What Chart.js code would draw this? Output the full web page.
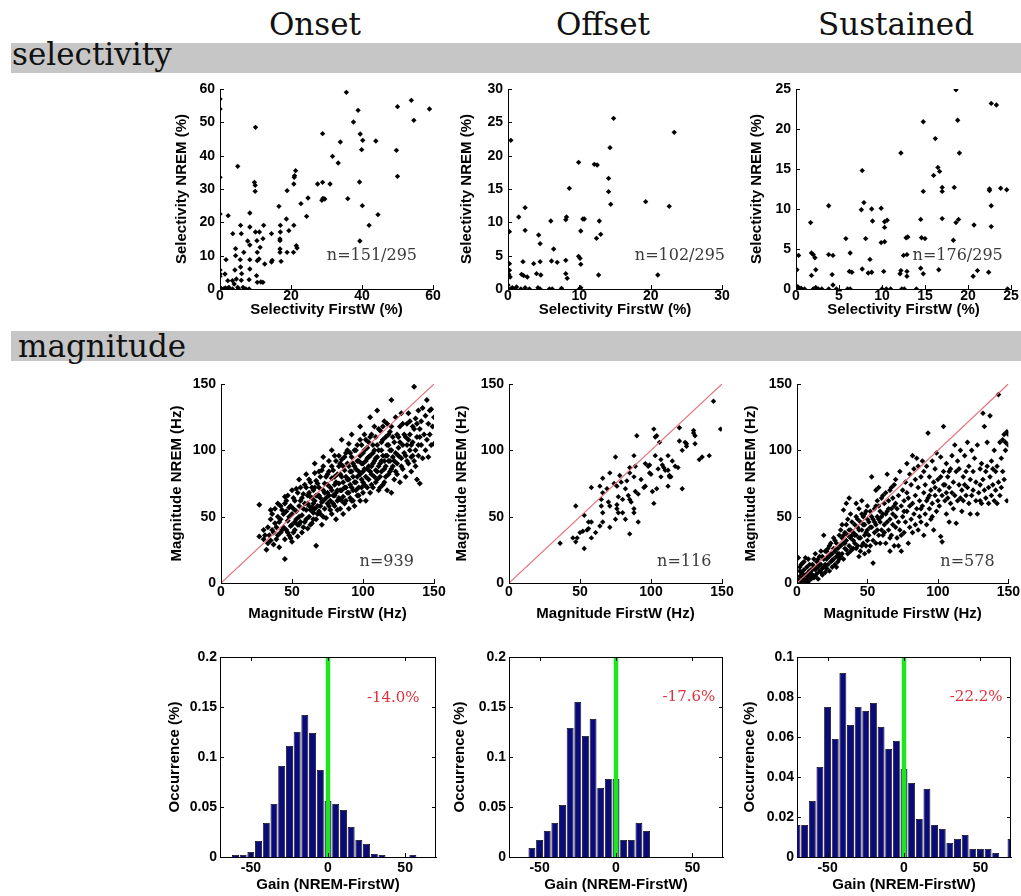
<!DOCTYPE html>
<html lang="en">
<head>
<meta charset="UTF-8" />
<title>FirstW vs NREM: selectivity and magnitude</title>
<script src="https://cdn.jsdelivr.net/npm/chart.js"></script>
<style>
  body { margin: 0; background: #fff; width: 1021px; height: 896px; position: relative; overflow: hidden; font-family: Arial, sans-serif; }
  .head { position: absolute; top: 9px; width: 220px; text-align: center; font-family: "DejaVu Serif", serif; font-size: 31px; line-height: 31px; color: #111; }
  .band { position: absolute; left: 11px; width: 1010px; height: 30px; background: #c6c6c6; }
  .band span { position: absolute; font-family: "DejaVu Serif", serif; font-size: 31px; line-height: 31px; color: #111; }
  canvas { position: absolute; }
</style>
</head>
<body>

<div class="head" style="left:205px">Onset</div>
<div class="head" style="left:493px">Offset</div>
<div class="head" style="left:786px">Sustained</div>
<div class="band" style="top:43px"><span style="left:1px;top:-4px">selectivity</span></div>
<div class="band" style="top:331px"><span style="left:7px;top:0px">magnitude</span></div>

<script>
  // ---- selectivity scatter (FirstW %, NREM %) ----
  const onsetSel = [[0,57],[0,54],[0,33.5],[0,22.5],[0,5.7],[0,4.5],[0,3.8],[0,0.5],[0,0],[0.4,0],[1,0],[1.5,0.3],[2,0],[2.5,0.5],
    [1.7,8.8],[1.4,4.5],[2.3,22],[2.2,2.5],[3.5,0],[3.6,16.6],[3.5,2.5],[4,1.5],[5,36.8],[4.4,12.1],[4.4,10],[4.2,5.7],[4.6,3],[5,0.5],[5.2,0],
    [5.8,19.1],[6,16.6],[5.7,8.8],[5.8,6.6],[6.1,4.6],[6,2.6],[6.5,0.5],[6.7,11],[7.8,14.4],[8.4,22.8],[8.4,18.6],[8.4,13.2],[8.4,8.8],[8.4,6],[8.2,2.8],[8.2,0],[7.3,0],
    [10,48.5],[9.7,32],[9.9,31.1],[9.9,29.3],[10,17.1],[10.4,14.5],[10.5,11],[10.5,8.5],[10.3,4],[10.5,2],[11.1,17.1],[11.3,12.5],[11,9],[11.5,2.1],[12.3,19.1],[12.1,15.1],[12.6,7.5],[12.1,2],
    [14.5,16.6],[14.7,8.6],[14.5,8.1],[16.6,24.8],[17,19.1],[17,17.1],[16.9,15],[16.9,14.5],[16.9,12],[16.9,11],[17.2,8.3],[18.7,21],[18.9,29.5],[19.4,17.5],[18.9,11],
    [20.8,31.5],[20.9,33.5],[21,34],[20.8,19.1],[20.7,11],[21.3,35.5],[21.5,13],[21.7,12.3],[22.8,25.6],[24.4,21.8],[24.8,27.3],[27.5,31.5],[28.9,46.6],[28.9,32],[29,27.2],[29.5,27],[28.7,26.6],
    [31,31.5],[31.7,39.8],[33.3,37.8],[33.9,44.1],[35.6,59],[36,27.1],[37.6,50.1],[38.9,53.6],[39.5,46.5],[39.3,32.1],[39.4,14.4],[39.9,41.8],[40.2,44.6],[40.1,25],[42,19.1],[43.9,44.4],[44.5,22.3],
    [50,54.7],[49.7,41.6],[50,33.8],[53.9,56.6],[54.6,50.6],[59,54]];

  const offsetSel = [[0.4,22.3],[0.2,8.6],[0.2,3.8],[0.2,2.8],[0.1,2.2],[0.3,1.8],[0,0.6],[0,0],[0.3,0],[0.6,0.2],[0.8,0],[1.2,0.3],
    [1.5,10.8],[2.4,12.2],[2.4,8.8],[1.9,2.2],[2.2,2],[2.1,4.1],[1.8,0],[2.4,0.2],[3,0],[2.7,1.8],
    [3.6,3.8],[4,2.3],[4.3,8.1],[4.5,6.8],[4.5,4.1],[4.6,2.1],[4.5,0],[4.2,0.2],[5.8,0],
    [6,10.2],[6.1,4.2],[6.4,6],[6.9,4],[6.2,0],[7.5,0.1],[8.2,10.8],[8.1,10.4],[8.6,15.1],[8.1,4.3],[8.1,2.3],[8.3,1.6],
    [9.9,19],[9.9,4.9],[10.1,4.6],[10.2,8.7],[10.5,10.5],[10.7,10.5],[10.2,3.7],[10.2,0.2],[10,0],
    [12.1,18.7],[12.5,18.6],[12.4,7.6],[12.8,10.2],[13,8.2],[12.7,2.1],[14.3,21.2],[14.1,16.6],[14.1,14.6],[14.4,12.7],[14.8,25.6],
    [19.3,13.1],[21,2.1],[22.6,12.4],[23.3,23.5]];

  const sustainedSel = [[0.3,4.2],[0.1,2.4],[0,0],[0.2,0.3],[0.4,0],[0.6,0.1],[1,0],
    [1.7,8.3],[1.8,4.5],[2,4.3],[2.2,3.9],[2.3,2.4],[1.8,1.7],[2,0],[2.3,0.2],[2.6,0],[3,0],
    [3.8,10.4],[3.8,4.3],[4.3,4.2],[4.2,1.8],[4.3,0.5],[4.7,0],[3.8,0],[5.8,6.3],[6.3,4.5],[6.2,2.2],[6.5,2.1],[6,0],[6.3,0],
    [7.6,9.9],[7.7,14.8],[7.9,10.8],[8.1,6.3],[7.7,2.5],[8.4,2],[8.8,2.1],[8.6,3.7],[8.8,10],[8.9,8.5],
    [9.9,10.1],[9.9,5.8],[10.3,5.9],[10.3,8.4],[10.3,7.7],[10.6,8.6],[10.2,2.2],[10,0],[10.5,0],[11,0],
    [12.2,17],[12.2,2.3],[12.1,1.9],[12.5,4.2],[12.8,6.4],[13,6.5],[12.9,4.3],[12.9,2.2],[12.9,1.6],[12.3,0],[12.6,0],[14,0],
    [14.5,8.7],[14.6,6.4],[15,6.3],[14.5,2.6],[14.8,1.9],[14.8,12.2],[14.8,20.9],[16,14.2],[16.2,18.8],[16.5,15.2],[16.7,14.7],[16.6,2.4],[17,12.7],[17,12.2],[17,8.8],
    [18.4,12.7],[18.3,6.1],[18.6,8.3],[18.9,8.7],[18.6,24.9],[18.8,21.1],[19,17],[20.7,8],[20.6,1.6],[21.1,2.3],
    [22.5,12.5],[22.5,12.3],[22.4,2.1],[22.7,23.2],[23.3,23],[22.7,10.4],[22.7,7.8],[23.8,12.6],[24.5,12.4],[24.6,0]];

  // ---- magnitude scatter (FirstW Hz, NREM Hz) ----
  const onsetMag = [[27,59],[27,35],[30,33],[32,25],[33,30],[34,36],[35,48],[36,40],[37,29],[38,45],[39,33],[40,50],[41,27],[42,38],[43,55],[44,42],[45,18],[45,33],[46,62],[47,47],[48,36],[48,57],[49,43],[50,31],[50,52],[51,64],[52,40],[53,48],[53,71],[54,35],[55,58],[55,44],[56,62],[57,51],[57,38],[58,67],[59,46],[60,55],[60,72],[61,41],[61,60],[62,50],[62,78],[63,65],[64,45],[64,57],[65,70],[65,53],[66,62],[66,83],[67,28],[67,48],[68,58],[68,75],[69,66],[70,52],[70,80],[71,44],[71,61],[72,70],[72,88],[73,56],[73,75],[74,64],[74,49],[75,82],[75,68],[76,58],[76,92],[77,72],[77,62],[78,52],[78,79],[79,85],[79,66],[80,58],[80,74],[80,96],[81,48],[81,68],[82,82],[82,62],[83,88],[83,75],[84,56],[84,70],[85,93],[85,80],[86,65],[86,52],[87,85],[87,72],[88,98],[88,62],[89,78],[89,90],[90,68],[90,56],[90,105],[91,84],[91,74],[92,62],[92,95],[93,80],[93,70],[94,88],[94,58],[95,100],[95,76],[96,66],[96,92],[97,84],[97,72],[98,108],[98,62],[99,90],[99,78],[100,98],[100,68],[100,84],[101,112],[101,74],[102,92],[102,62],[103,86],[103,102],[104,78],[104,95],[105,68],[105,110],[106,88],[106,82],[107,98],[107,72],[108,118],[108,92],[109,85],[109,76],[110,104],[110,95],[111,70],[111,88],[112,115],[112,80],[113,100],[113,92],[114,74],[114,108],[115,86],[115,122],[116,96],[116,80],[117,104],[117,70],[118,92],[118,112],[119,84],[119,100],[120,68],[120,118],[121,95],[121,88],[122,106],[122,78],[123,125],[123,98],[124,90],[124,82],[125,110],[125,102],[126,76],[126,118],[127,94],[127,128],[128,86],[128,104],[129,112],[130,96],[130,80],[131,120],[131,104],[132,90],[132,128],[133,100],[133,112],[134,84],[134,95],[135,118],[135,106],[136,148],[136,92],[137,124],[137,100],[138,78],[138,110],[139,130],[139,96],[140,75],[140,116],[141,104],[141,122],[142,94],[142,132],[143,112],[144,100],[144,126],[145,138],[145,108],[146,95],[146,120],[147,130],[147,112],[148,131],[148,104],[149,118],[150,105],[150,125],[120,138],[110,130],[105,125],[98,118],[92,112],[85,108],[78,100],[72,95],[66,90],[60,82],[55,78],[50,70],[45,65],[40,60],[35,55],
    [62,68],[63,55],[64,72],[65,60],[67,66],[67,77],[68,52],[69,72],[70,64],[70,58],[71,85],[72,62],[72,50],[73,68],[74,80],[75,60],[75,74],[76,66],[76,84],[77,55],[78,70],[78,88],[79,60],[80,80],[80,66],[81,92],[81,76],[82,70],[82,55],[83,64],[83,96],[84,82],[84,90],[85,70],[85,62],[86,76],[86,88],[87,60],[87,95],[88,80],[88,72],[89,68],[89,100],[90,78],[90,88],[91,64],[91,98],[92,84],[92,72],[93,90],[93,62],[94,76],[94,100],[95,86],[95,70],[96,80],[96,104],[97,92],[97,66],[98,82],[98,96],[99,72],[99,104],[100,90],[100,76],[101,86],[101,100],[102,80],[102,108],[103,72],[103,94],[104,88],[104,106],[105,84],[105,96],[106,74],[106,112],[107,90],[107,104],[108,80],[108,100],[109,94],[109,110],[110,84],[110,78],[111,100],[111,116],[112,90],[112,72],[113,106],[113,84],[114,96],[114,118],[115,92],[115,76],[116,110],[116,88],[117,96],[117,120],[118,82],[118,104],[119,92],[119,114],[120,100],[120,86],[121,110],[122,92],[123,84],[124,112],[125,96],[126,106],[127,88],[128,120],[129,98],[130,110],[131,92],[132,108],[133,122],[134,104],[135,96],[136,116],[137,88],[138,120],[139,104],[140,110],
    [30,40],[31,36],[33,42],[35,32],[36,52],[37,38],[38,56],[39,42],[40,36],[41,46],[42,58],[42,48],[43,40],[44,52],[45,60],[46,40],[46,54],[47,38],[47,66],[48,50],[49,58],[49,34],[50,44],[51,56],[51,38],[52,62],[52,46],[53,54],[54,68],[54,44],[55,50],[56,72],[56,46],[57,64],[58,42],[58,56],[59,74],[59,60],[60,48],[61,66],[62,58],[63,44],[63,76],[64,64],[65,48],[66,72],[66,56],[68,66],[69,54],[69,84]];

  const offsetMag = [[36,30],[45,34],[47,58],[47,31],[48,34],[50,38],[52,39],[53,51],[53,26],[55,40],[56,46],[56,41],[58,46],[58,72],[58,34],[61,38],[64,43],[64,73],[65,63],[66,68],[66,79],[65,58],[66,53],[66,46],[69,71],[70,61],[71,58],[71,83],[71,42],[74,75],[75,95],[75,48],[76,73],[76,59],[76,56],[77,65],[77,53],[78,81],[79,76],[80,63],[80,53],[82,71],[82,48],[83,77],[84,66],[85,87],[85,83],[85,63],[85,37],[86,61],[88,96],[88,80],[88,56],[88,53],[89,88],[89,69],[90,111],[91,46],[91,67],[93,78],[95,72],[96,73],[96,90],[98,88],[99,89],[99,83],[100,82],[101,69],[102,116],[102,60],[103,110],[104,111],[103,96],[104,71],[105,86],[106,106],[107,93],[107,80],[108,89],[109,87],[110,85],[112,73],[112,96],[112,85],[113,81],[113,80],[114,80],[115,92],[117,88],[119,87],[120,117],[120,107],[122,100],[122,71],[124,106],[125,103],[125,105],[130,115],[130,113],[131,111],[131,105],[134,93],[136,95],[141,96],[144,137],[149,116]];

  const sustainedMag = [[1,2],[2,5],[2,12],[3,1],[3,8],[4,4],[4,15],[5,2],[5,10],[6,6],[6,19],[7,3],[7,12],[8,8],[8,1],[9,14],[9,5],[10,10],[10,3],[1,19],[3,14],[5,16],[6,1],[8,18],[10,7],[2,9],[4,7],[7,6],[9,9],[0,1],
    [11,14],[11,6],[12,18],[12,4],[13,10],[13,22],[14,7],[14,16],[15,12],[15,3],[16,20],[16,9],[17,14],[17,24],[18,11],[18,6],[19,18],[19,36],[20,14],[20,8],[11,10],[12,12],[13,5],[14,12],[15,18],[16,14],[17,8],[18,20],[19,12],[20,24],
    [21,18],[21,11],[22,26],[22,14],[23,20],[23,9],[24,30],[24,16],[25,22],[25,12],[26,18],[26,34],[27,24],[27,14],[28,20],[28,30],[29,16],[29,26],[30,36],[30,22],[21,24],[22,20],[23,28],[24,22],[25,17],[26,26],[27,32],[28,12],[29,22],[30,18],
    [31,28],[31,40],[32,22],[32,34],[33,30],[33,18],[34,38],[34,26],[35,44],[35,32],[36,22],[36,36],[37,64],[37,28],[38,40],[38,34],[39,26],[39,46],[40,32],[40,38],[31,20],[32,44],[33,36],[34,30],[35,25],[36,48],[37,40],[38,24],[39,36],[40,26],[33,55],[35,60],[38,52],
    [41,44],[41,30],[42,50],[42,36],[43,28],[43,42],[44,56],[44,34],[45,46],[45,24],[46,40],[46,62],[47,30],[47,50],[48,36],[48,44],[49,54],[49,28],[50,40],[50,48],[41,36],[42,26],[43,48],[44,40],[45,34],[46,28],[47,44],[48,52],[49,38],[50,32],[42,60],[46,52],[48,22],[50,58],[44,20],
    [51,46],[51,36],[52,54],[52,28],[53,80],[53,42],[54,48],[54,15],[55,38],[55,56],[56,44],[56,30],[57,62],[57,50],[58,36],[58,72],[59,46],[59,54],[60,40],[60,64],[51,24],[52,42],[53,50],[54,32],[55,46],[56,58],[57,40],[58,48],[59,30],[60,50],[56,70],[58,58],
    [61,52],[61,36],[62,60],[62,44],[63,30],[63,68],[64,54],[64,82],[65,40],[65,62],[66,48],[66,70],[67,36],[67,56],[68,64],[68,44],[69,28],[69,74],[70,50],[70,60],[61,66],[62,38],[63,52],[64,46],[65,56],[66,34],[67,72],[68,52],[69,58],[70,42],[66,24],[70,78],
    [71,56],[71,34],[72,66],[72,46],[73,40],[73,84],[74,58],[74,24],[75,50],[75,70],[76,38],[76,62],[77,76],[77,46],[78,54],[78,90],[79,30],[79,64],[80,42],[80,82],[72,28],[74,36],[76,54],[78,68],[80,58],
    [81,48],[81,74],[82,60],[82,38],[83,86],[83,52],[84,66],[84,44],[85,94],[85,56],[86,40],[86,72],[87,62],[87,50],[88,80],[88,46],[89,92],[89,58],[90,68],[90,36],[82,96],[84,78],[86,88],[88,56],[90,84],
    [91,74],[91,52],[92,88],[92,44],[93,64],[93,113],[94,56],[94,80],[95,48],[95,70],[96,92],[96,60],[97,76],[97,40],[98,66],[98,86],[99,54],[99,98],[100,62],[100,78],[92,62],[94,66],[96,50],[98,72],
    [101,70],[101,58],[102,95],[102,35],[103,31],[103,66],[104,118],[104,84],[105,62],[105,74],[106,52],[106,90],[107,80],[107,64],[108,72],[108,46],[109,86],[109,60],[110,68],[110,96],[102,80],[104,74],[106,68],[108,84],
    [111,76],[111,56],[112,104],[112,66],[113,84],[113,45],[114,62],[114,92],[115,74],[115,86],[116,64],[116,100],[117,70],[117,54],[118,80],[118,62],[119,96],[119,74],[120,66],[120,84],
    [121,106],[121,72],[122,60],[122,88],[123,52],[123,78],[124,100],[124,66],[125,84],[125,70],[126,94],[127,62],[127,76],[128,104],[128,52],[129,68],[130,86],[130,74],[130,62],
    [131,90],[131,60],[132,78],[132,128],[133,118],[133,70],[134,84],[134,64],[135,106],[135,88],[136,72],[136,60],[137,126],[137,80],[138,92],[138,66],[139,74],[139,86],[140,62],[140,100],
    [141,70],[141,84],[142,88],[142,60],[143,76],[143,142],[144,106],[144,66],[145,94],[145,72],[146,108],[146,84],[147,112],[147,78],[148,100],[148,106],[149,114],[149,62],[150,104],[150,112]];

  const identityLine = [[0,0],[150,150]];

  // ---- gain histograms (bin centre, fraction) ----
  const onsetGainBins = [-60,-55,-50,-45,-40,-35,-30,-25,-20,-15,-10,-5,0,5,10,15,20,25,30,35,40,45,50,55];
  const onsetGain = [0.002,0.002,0.005,0.016,0.034,0.053,0.091,0.111,0.125,0.142,0.124,0.087,0.056,0.053,0.047,0.030,0.017,0.013,0.003,0.002,0,0,0,0.002];
  const offsetGainBins = [-55,-50,-45,-40,-35,-30,-25,-20,-15,-10,-5,0,5,10,15,20];
  const offsetGain = [0.009,0.017,0.026,0.034,0.052,0.129,0.155,0.121,0.138,0.069,0.078,0.078,0.017,0.017,0.034,0.026];
  const sustainedGainBins = [-70,-65,-60,-55,-50,-45,-40,-35,-30,-25,-20,-15,-10,-5,0,5,10,15,20,25,30,35,40,45,50,55,60,65,70];
  const sustainedGain = [0.016,0.016,0.028,0.045,0.075,0.059,0.092,0.066,0.075,0.073,0.077,0.065,0.054,0.058,0.044,0.037,0.019,0.034,0.016,0.014,0.007,0.009,0.011,0.004,0.004,0.004,0.002,0,0.009];
  const zeroLine = [[0,0],[0,0.2]];

  // ---- ticks and labels ----
  const selOnsetTicks = [0,10,20,30,40,50,60];
  const selOnsetXTicks = [0,20,40,60];
  const selOffsetTicks = [0,5,10,15,20,25,30];
  const selOffsetXTicks = [0,10,20,30];
  const selSustTicks = [0,5,10,15,20,25];
  const magTicks = [0,50,100,150];
  const gainXTicks = [-50,0,50];
  const gainYTicks = [0,0.05,0.1,0.15,0.2];
  const gainYTicksSust = [0,0.02,0.04,0.06,0.08,0.1];
  const countLabels = ['n=151/295','n=102/295','n=176/295','n=939','n=116','n=578'];
  const gainLabels = ['-14.0%','-17.6%','-22.2%'];

  const TICK_FONT = { family: 'Arial', size: 14, weight: 'bold' };
  const TITLE_FONT = { family: 'Arial', size: 15, weight: 'bold' };

  // inward MATLAB-style ticks, optional full box
  const inTicks = {
    id: 'inTicks',
    afterDraw(chart, args, opts) {
      const { ctx, chartArea: a, scales: { x, y } } = chart;
      ctx.save();
      ctx.strokeStyle = '#000';
      ctx.lineWidth = 1;
      ctx.beginPath();
      x.ticks.forEach(t => {
        const px = Math.round(x.getPixelForValue(t.value)) + 0.5;
        ctx.moveTo(px, a.bottom); ctx.lineTo(px, a.bottom - 4);
        if (opts.box) { ctx.moveTo(px, a.top); ctx.lineTo(px, a.top + 4); }
      });
      y.ticks.forEach(t => {
        const py = Math.round(y.getPixelForValue(t.value)) + 0.5;
        ctx.moveTo(a.left, py); ctx.lineTo(a.left + 4, py);
        if (opts.box) { ctx.moveTo(a.right, py); ctx.lineTo(a.right - 4, py); }
      });
      if (opts.box) {
        ctx.moveTo(a.left, a.top + 0.5); ctx.lineTo(a.right, a.top + 0.5);
        ctx.moveTo(a.right - 0.5, a.top); ctx.lineTo(a.right - 0.5, a.bottom);
      }
      ctx.stroke();
      ctx.restore();
    }
  };

  // text placed in data coordinates
  const note = {
    id: 'note',
    afterDatasetsDraw(chart, args, opts) {
      if (!opts.text) return;
      const { ctx, scales: { x, y } } = chart;
      ctx.save();
      ctx.font = opts.font;
      ctx.fillStyle = opts.color;
      ctx.textAlign = 'center';
      ctx.textBaseline = 'middle';
      ctx.fillText(opts.text, x.getPixelForValue(opts.x), y.getPixelForValue(opts.y));
      ctx.restore();
    }
  };

  const pts = arr => arr.map(([x, y]) => ({ x, y }));

  function axis(dir, a, box, yw) {
    return {
      type: 'linear', min: a.min, max: a.max, offset: false,
      afterBuildTicks: s => { s.ticks = a.ticks.map(v => ({ value: v })); },
      ticks: {
        font: TICK_FONT, color: '#000', maxRotation: 0, autoSkip: false,
        padding: dir === 'x' ? box.xpad : box.ypad,
        callback: v => String(+(+v).toFixed(3))
      },
      grid: { display: false, drawTicks: false },
      border: { color: '#000', width: 1 },
      title: { display: true, text: a.title, font: TITLE_FONT, color: '#000', padding: 0 },
      afterFit: s => { if (dir === 'x') s.height = box.xh; else s.width = yw; }
    };
  }

  function panel(type, box, xa, ya, datasets, noteOpts, boxed) {
    const cv = document.createElement('canvas');
    const left = Math.round(box.titleX - 9);
    const yw = box.L - left;
    const padR = Math.min(14, 1021 - box.R);
    const w = box.R - left + padR;
    const h = 14 + box.B - box.T + box.xh;
    cv.width = w; cv.height = h;
    cv.style.left = left + 'px';
    cv.style.top = (box.T - 14) + 'px';
    cv.style.width = w + 'px';
    cv.style.height = h + 'px';
    document.body.appendChild(cv);
    new Chart(cv, {
      type,
      data: { datasets },
      options: {
        responsive: false,
        animation: false,
        events: [],
        layout: { autoPadding: false, padding: { top: 14, right: padR, left: 0, bottom: 0 } },
        plugins: { legend: { display: false }, tooltip: { enabled: false }, inTicks: { box: boxed }, note: noteOpts },
        scales: { x: axis('x', xa, box, yw), y: axis('y', ya, box, yw) }
      },
      plugins: [inTicks, note]
    });
  }

  const dots = (arr, r) => ({
    type: 'scatter', data: pts(arr), order: 1,
    pointStyle: 'rectRot', pointRadius: r, backgroundColor: '#000', borderWidth: 0
  });
  const diag = () => ({
    type: 'line', data: pts(identityLine), order: 0,
    borderColor: '#e5707a', borderWidth: 1.2, pointRadius: 0
  });
  const hist = (bins, vals) => ({
    type: 'bar', data: bins.map((b, i) => ({ x: b, y: vals[i] })), order: 1,
    backgroundColor: '#0a0a7a', borderColor: '#000', borderWidth: 0.8,
    barPercentage: 0.9, categoryPercentage: 1
  });
  const zero = () => ({
    type: 'line', data: pts(zeroLine), order: 0,
    borderColor: '#1ee61e', borderWidth: 4.5, pointRadius: 0
  });
  const nFont = '16px "DejaVu Serif", serif';
  const gFont = '15px "DejaVu Serif", serif';
  const nNote = (i, x, y) => ({ text: countLabels[i], x, y, font: nFont, color: '#3a3a3a' });
  const gNote = (i, x, y) => ({ text: gainLabels[i], x, y, font: gFont, color: '#e0303c' });

  const selX = 'Selectivity FirstW (%)', selY = 'Selectivity NREM (%)';
  const magX = 'Magnitude FirstW (Hz)', magY = 'Magnitude NREM (Hz)';
  const gX = 'Gain (NREM-FirstW)', gY = 'Occurrence (%)';

  // row 1: selectivity
  const r1 = { T: 89, B: 289, xh: 30, xpad: -1, ypad: 5 };
  panel('scatter', { ...r1, L: 220, R: 433, titleX: 182 },
    { min: 0, max: 60, ticks: selOnsetXTicks, title: selX }, { min: 0, max: 60, ticks: selOnsetTicks, title: selY },
    [dots(onsetSel, 2.7)], nNote(0, 42.8, 9.8), false);
  panel('scatter', { ...r1, L: 508, R: 722, titleX: 467 },
    { min: 0, max: 30, ticks: selOffsetXTicks, title: selX }, { min: 0, max: 30, ticks: selOffsetTicks, title: selY },
    [dots(offsetSel, 2.7)], nNote(1, 24.1, 4.9), false);
  panel('scatter', { ...r1, L: 796, R: 1011, titleX: 757 },
    { min: 0, max: 25, ticks: selSustTicks, title: selX }, { min: 0, max: 25, ticks: selSustTicks, title: selY },
    [dots(sustainedSel, 2.7)], nNote(2, 18.8, 4.1), false);

  // row 2: magnitude
  const r2 = { T: 384, B: 583, xh: 40, xpad: 1, ypad: 5 };
  panel('scatter', { ...r2, L: 221, R: 434, titleX: 177 },
    { min: 0, max: 150, ticks: magTicks, title: magX }, { min: 0, max: 150, ticks: magTicks, title: magY },
    [diag(), dots(onsetMag, 3)], nNote(3, 116.7, 15.8), false);
  panel('scatter', { ...r2, L: 509, R: 722, titleX: 462 },
    { min: 0, max: 150, ticks: magTicks, title: magX }, { min: 0, max: 150, ticks: magTicks, title: magY },
    [diag(), dots(offsetMag, 2.7)], nNote(4, 123.4, 15.8), false);
  panel('scatter', { ...r2, L: 797, R: 1011, titleX: 751 },
    { min: 0, max: 150, ticks: magTicks, title: magX }, { min: 0, max: 150, ticks: magTicks, title: magY },
    [diag(), dots(sustainedMag, 2.8)], nNote(5, 121, 15.8), false);

  // row 3: gain histograms
  const r3 = { T: 657, B: 857, xh: 37, xpad: 3, ypad: 3 };
  panel('bar', { ...r3, L: 220, R: 436, titleX: 175 },
    { min: -70, max: 70, ticks: gainXTicks, title: gX }, { min: 0, max: 0.2, ticks: gainYTicks, title: gY },
    [zero(), hist(onsetGainBins, onsetGain)], gNote(0, 42.3, 0.159), true);
  panel('bar', { ...r3, L: 509, R: 723, titleX: 460 },
    { min: -70, max: 70, ticks: gainXTicks, title: gX }, { min: 0, max: 0.2, ticks: gainYTicks, title: gY },
    [zero(), hist(offsetGainBins, offsetGain)], gNote(1, 47.7, 0.16), true);
  panel('bar', { ...r3, L: 797, R: 1011, titleX: 750 },
    { min: -70, max: 70, ticks: gainXTicks, title: gX }, { min: 0, max: 0.1, ticks: gainYTicksSust, title: gY },
    [zero(), hist(sustainedGainBins, sustainedGain)], gNote(2, 47.2, 0.08), true);
</script>

</body>
</html>
